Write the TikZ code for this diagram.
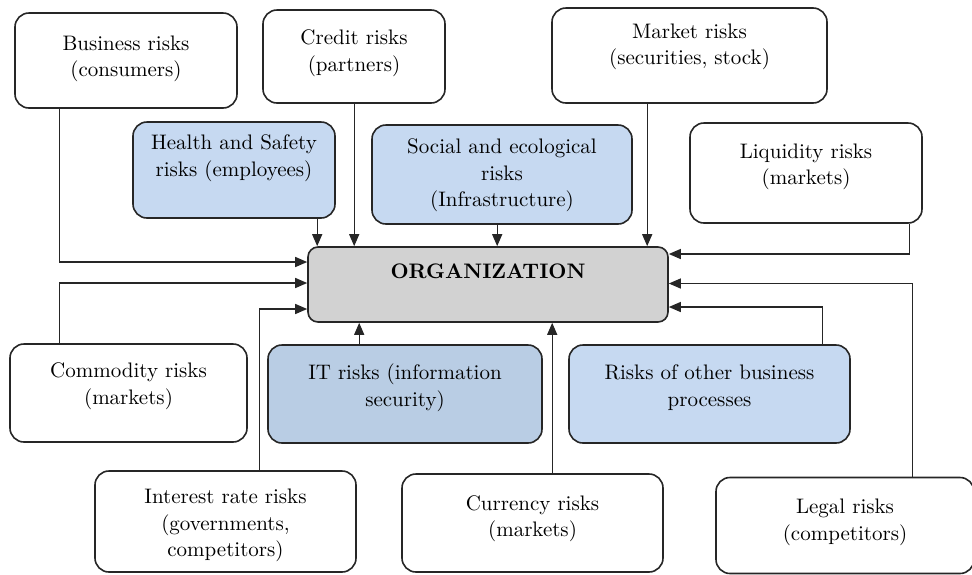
\documentclass[tikz,border=0pt]{standalone}
\usepackage{fontspec}
\setmainfont{lmroman10-regular.otf}[BoldFont=lmroman10-bold.otf]
\usetikzlibrary{arrows.meta,calc}
\definecolor{lblue}{HTML}{C6D9F1}
\definecolor{dblue}{HTML}{B9CDE4}
\definecolor{orggray}{HTML}{D2D2D2}
\begin{document}
\begin{tikzpicture}[x=1pt,y=-1pt,
  box/.style={draw=black!85,line width=1.6pt,rounded corners=14pt,inner sep=0pt},
  txt/.style={anchor=north,align=center,inner sep=0pt,text=black,font=\fontsize{21}{26.5}\selectfont},
  arr/.style={draw=black!85,line width=1.3pt,-{Triangle[length=12pt,width=10pt]}}]
\useasboundingbox (0,0) rectangle (972,574);
\begin{scope}
\clip (0,0) rectangle (972,574);
% boxes
\node[box,minimum width=222pt,minimum height=95pt] (bus) at (126,60.5) {};
\node[box,minimum width=182pt,minimum height=93pt] (cre) at (354,56.5) {};
\node[box,minimum width=275pt,minimum height=95pt] (mkt) at (689.5,55.5) {};
\node[box,fill=lblue,minimum width=202pt,minimum height=96pt] (hs) at (234,170) {};
\node[box,fill=lblue,minimum width=260pt,minimum height=99pt] (soc) at (502,174.5) {};
\node[box,minimum width=232pt,minimum height=100pt] (liq) at (806,173) {};
\node[box,fill=orggray,minimum width=360pt,minimum height=75pt,rounded corners=10pt] (org) at (488,284.5) {};
\node[box,minimum width=237pt,minimum height=98pt] (com) at (128.5,393) {};
\node[box,fill=dblue,minimum width=274pt,minimum height=98pt] (it) at (405,394) {};
\node[box,fill=lblue,minimum width=281pt,minimum height=98pt] (oth) at (709.5,394) {};
\node[box,minimum width=261pt,minimum height=101pt] (int) at (225.5,521.5) {};
\node[box,minimum width=261pt,minimum height=98pt] (cur) at (532.5,523) {};
\node[box,minimum width=258pt,minimum height=96pt] (leg) at (845,525.5) {};
\end{scope}
% texts
\node[txt] (tbus) at ($(bus.north)+(0,23.5)$) {Business risks\\(consumers)};
\node[txt] (tcre) at ($(cre.north)+(0,20.5)$) {Credit risks\\(partners)};
\node[txt] (tmkt) at ($(mkt.north)+(0,16.5)$) {Market risks\\(securities, stock)};
\node[txt] (ths) at ($(hs.north)+(0,13.5)$) {Health and Safety\\risks (employees)};
\node[txt] (tsoc) at ($(soc.north)+(0,14.5)$) {Social and ecological\\risks\\(Infrastructure)};
\node[txt] (tliq) at ($(liq.north)+(0,21.5)$) {Liquidity risks\\(markets)};
\node[txt,font=\fontsize{21}{26.5}\selectfont\bfseries] (torg) at ($(org.north)+(0,17)$) {ORGANIZATION};
\node[txt] (tcom) at ($(com.north)+(0,19.5)$) {Commodity risks\\(markets)};
\node[txt] (tit) at ($(it.north)+(0,19.5)$) {IT risks (information\\security)};
\node[txt] (toth) at ($(oth.north)+(0,20.5)$) {Risks of other business\\processes};
\node[txt] (tint) at ($(int.north)+(0,19)$) {Interest rate risks\\(governments,\\competitors)};
\node[txt] (tcur) at ($(cur.north)+(0,22)$) {Currency risks\\(markets)};
\node[txt] (tleg) at ($(leg.north)+(0,22.5)$) {Legal risks\\(competitors)};
% arrow targets on ORGANIZATION
\coordinate (t1) at ($(org.north west)+(10,0)$);
\coordinate (t2) at ($(org.north west)+(47,0)$);
\coordinate (t3) at ($(org.north west)+(190,0)$);
\coordinate (t4) at ($(org.north west)+(340,0)$);
\coordinate (l1) at ($(org.west)+(0,-22.5)$);
\coordinate (l2) at ($(org.west)+(0,-1.5)$);
\coordinate (l3) at ($(org.west)+(0,24.5)$);
\coordinate (r1) at ($(org.east)+(0,-30.5)$);
\coordinate (r2) at ($(org.east)+(0,-1)$);
\coordinate (r3) at ($(org.east)+(0,22.5)$);
\coordinate (b1) at ($(org.south west)+(52,0)$);
\coordinate (b2) at ($(org.south west)+(245,0)$);
% connectors
\draw[arr] (hs.south -| t1) -- (t1);
\draw[arr] (cre.south -| t2) -- (t2);
\draw[arr] (soc.south -| t3) -- (t3);
\draw[arr] (mkt.south -| t4) -- (t4);
\draw[arr] ($(bus.south west)+(45,0)$) |- (l1);
\draw[arr] ($(com.north west)+(50,0)$) |- (l2);
\draw[arr] ($(int.north west)+(165,0)$) |- (l3);
\draw[arr] ($(liq.south east)+(-13,0)$) |- (r1);
\draw[arr] ($(leg.north west)+(197,0)$) |- (r2);
\draw[arr] ($(oth.north west)+(254,0)$) |- (r3);
\draw[arr] (it.north -| b1) -- (b1);
\draw[arr] (cur.north -| b2) -- (b2);
\end{tikzpicture}
\end{document}
